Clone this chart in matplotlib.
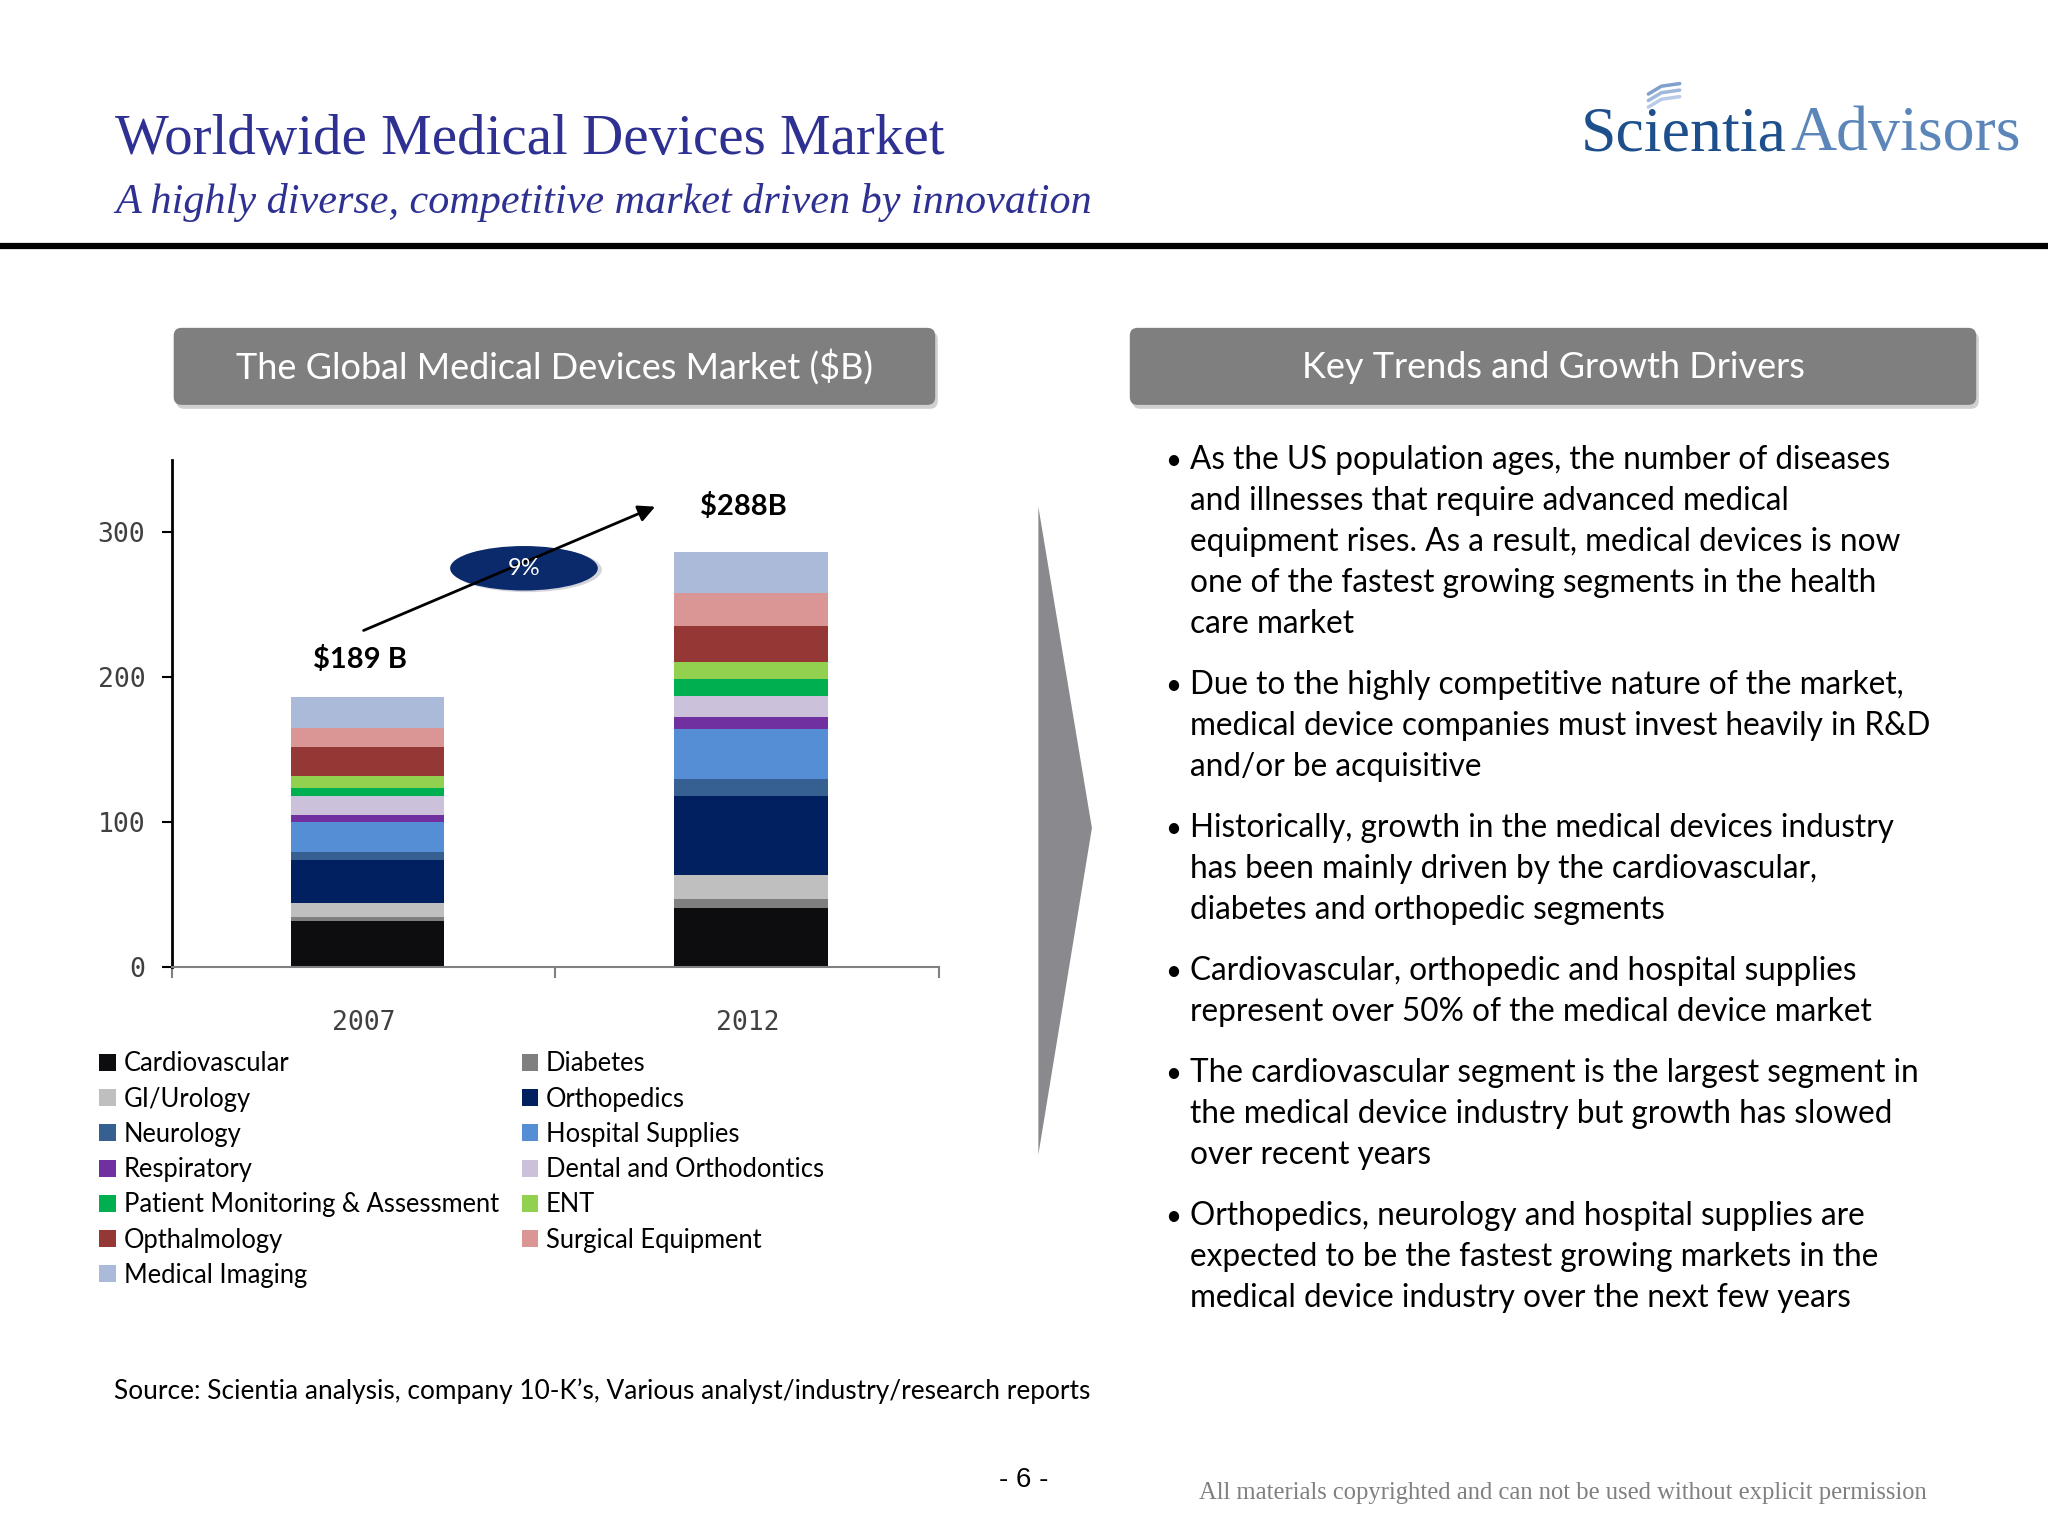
import matplotlib
matplotlib.use('Agg')
import matplotlib.pyplot as plt
from matplotlib.patches import FancyBboxPatch, Ellipse, Polygon, Patch
import numpy as np

plt.rcParams['font.family'] = ['Lato', 'DejaVu Sans']

# chart data ($B), stacked bottom to top
years = ['2007', '2012']
segments = ['Cardiovascular', 'Diabetes', 'GI/Urology', 'Orthopedics', 'Neurology',
            'Hospital Supplies', 'Respiratory', 'Dental and Orthodontics',
            'Patient Monitoring & Assessment', 'ENT', 'Opthalmology',
            'Surgical Equipment', 'Medical Imaging']
cardiovascular = [31.2, 40.5]
diabetes = [2.9, 6.2]
gi_urology = [9.5, 16.7]
orthopedics = [29.8, 54.5]
neurology = [5.5, 11.4]
hospital_supplies = [21.2, 35.0]
respiratory = [4.5, 8.3]
dental = [13.3, 14.5]
patient_monitoring = [5.5, 11.7]
ent = [7.9, 11.7]
opthalmology = [20.0, 24.5]
surgical = [13.1, 23.3]
medical_imaging = [21.7, 28.3]
total_labels = ['$189 B', '$288B']
growth_label = '9%'
yticks = [0, 100, 200, 300]

colors = ['#0d0d10', '#7f7f7f', '#bfbfbf', '#002060', '#366092', '#558ed5', '#7030a0',
          '#ccc1da', '#00b050', '#92d050', '#953735', '#d99694', '#abbad8']

bullets = [
    ['As the US population ages, the number of diseases',
     'and illnesses that require advanced medical',
     'equipment rises. As a result, medical devices is now',
     'one of the fastest growing segments in the health',
     'care market'],
    ['Due to the highly competitive nature of the market,',
     'medical device companies must invest heavily in R&D',
     'and/or be acquisitive'],
    ['Historically, growth in the medical devices industry',
     'has been mainly driven by the cardiovascular,',
     'diabetes and orthopedic segments'],
    ['Cardiovascular, orthopedic and hospital supplies',
     'represent over 50% of the medical device market'],
    ['The cardiovascular segment is the largest segment in',
     'the medical device industry but growth has slowed',
     'over recent years'],
    ['Orthopedics, neurology and hospital supplies are',
     'expected to be the fastest growing markets in the',
     'medical device industry over the next few years'],
]

W, H = 1568, 1176
fig = plt.figure(figsize=(20.48, 15.36), dpi=100)

# page layer for the slide decorations
page = fig.add_axes([0, 0, 1, 1])
page.set_xlim(0, W)
page.set_ylim(H, 0)
page.axis('off')

title_color = '#2e3092'
page.text(88, 118, 'Worldwide Medical Devices Market', family='Liberation Serif',
          fontsize=41, color=title_color, va='baseline')
page.text(88, 163, 'A highly diverse, competitive market driven by innovation',
          family='Liberation Serif', fontstyle='italic', fontsize=30.3,
          color=title_color, va='baseline')
page.plot([0, W], [188, 188], color='black', lw=4.5, solid_capstyle='butt')

page.text(1210, 115, 'Scientia', family='Liberation Serif', fontsize=46,
          color='#1c4f8c', va='baseline')
page.text(1371, 115, 'Advisors', family='Liberation Serif', fontsize=46,
          color='#5c86ba', va='baseline')
# little swoosh over the logo
for k, c in enumerate(['#7f9fcc', '#9fb8dc', '#b9cbe6']):
    page.plot([1262, 1272, 1286], [72 + 5 * k, 66 + 5 * k, 64 + 5 * k], color=c,
              lw=2.5, solid_capstyle='round')

for x0, x1, label in [(133, 716, 'The Global Medical Devices Market ($B)'),
                      (865, 1513, 'Key Trends and Growth Drivers')]:
    page.add_patch(FancyBboxPatch((x0 + 2, 254), x1 - x0, 59,
                                  boxstyle='round,pad=0,rounding_size=6',
                                  fc='#d0d0d0', ec='none'))
    page.add_patch(FancyBboxPatch((x0, 251), x1 - x0, 59,
                                  boxstyle='round,pad=0,rounding_size=6',
                                  fc='#7f7f7f', ec='none'))
    page.text((x0 + x1) / 2, 281, label, ha='center', va='center',
              fontsize=26, color='white')

page.add_patch(Polygon([(795, 388), (836, 634), (795, 884)], closed=True,
                       fc='#8a8a8e', ec='none'))

# bullet text
y = 359
for para in bullets:
    page.text(892, y, '\u2022', fontsize=20, va='baseline')
    for line in para:
        page.text(911, y, line, fontsize=22.7, va='baseline')
        y += 31.4
    y += 15.3

page.text(87, 1071, 'Source: Scientia analysis, company 10-K\u2019s, Various analyst/industry/research reports',
          fontsize=18.9, va='baseline')
page.text(784, 1133, '- 6 -', family='Liberation Sans', fontsize=20,
          ha='center', va='center')
page.text(918, 1143, 'All materials copyrighted and can not be used without explicit permission',
          family='Liberation Serif', fontsize=17.7, color='#808080', va='center')

# stacked bar chart
ax = fig.add_axes([131.5 / W, 1 - 740 / H, (719 - 131.5) / W, (740 - 352) / H])
ax.set_facecolor('none')
series = [cardiovascular, diabetes, gi_urology, orthopedics, neurology,
          hospital_supplies, respiratory, dental, patient_monitoring, ent,
          opthalmology, surgical, medical_imaging]
x = np.arange(len(years))
bottom = np.zeros(len(years))
handles = []
for name, vals, c in zip(segments, series, colors):
    ax.bar(x + 0.01, vals, 0.4, bottom=bottom, color=c, linewidth=0)
    bottom += np.array(vals)
    handles.append(Patch(fc=c, ec='none', label=name))
totals = bottom

ax.set_xlim(-0.5, 1.5)
ax.set_ylim(0, 350)
for s in ['top', 'right']:
    ax.spines[s].set_visible(False)
ax.spines['left'].set_color('black')
ax.spines['left'].set_linewidth(2)
ax.spines['bottom'].set_color('#808080')
ax.spines['bottom'].set_linewidth(1.5)

ax.set_yticks(yticks)
ax.set_yticklabels([str(v) for v in yticks], family='DejaVu Sans Mono',
                   fontsize=19, color='#404040')
ax.tick_params(axis='y', length=7, width=1.5, pad=12)
ax.set_xticks([-0.5, 0.5, 1.5])
ax.set_xticklabels([])
ax.tick_params(axis='x', which='major', length=8, width=1.5, color='#808080')
ax.set_xticks(x, minor=True)
ax.set_xticklabels(years, minor=True, family='DejaVu Sans Mono', fontsize=19,
                   color='#404040')
ax.tick_params(axis='x', which='minor', length=0, pad=31)

for i, lab in enumerate(total_labels):
    ax.text(x[i] - 0.01, totals[i] + 26 + 5 * i, lab, ha='center', va='center',
            fontsize=21, fontweight='bold')

start = (x[0], totals[0] + 46)
end = (0.76, totals[1] + 31)
ax.annotate('', xy=end, xytext=start,
            arrowprops=dict(arrowstyle='-|>', color='black', lw=2, mutation_scale=25,
                            shrinkA=0, shrinkB=0))
cx = start[0] + 0.55 * (end[0] - start[0])
cy = start[1] + 0.52 * (end[1] - start[1])
ax.add_patch(Ellipse((cx + 0.008, cy - 2.5), 0.39, 31, fc='#b8b8c4', ec='none', alpha=0.6))
ax.add_patch(Ellipse((cx, cy - 1.5), 0.385, 30.7, fc='#0a2a6b', ec='none'))
ax.text(cx, cy - 1.5, growth_label, ha='center', va='center', color='white', fontsize=17)

order = list(range(0, len(handles), 2)) + list(range(1, len(handles), 2))
fig.legend([handles[i] for i in order], [segments[i] for i in order],
           loc='upper left', bbox_to_anchor=(76 / W, 1 - 805 / H), ncol=2,
           frameon=False, fontsize=18.4, handlelength=0.65, handleheight=0.65,
           handletextpad=0.3, columnspacing=0.9, labelspacing=0.40,
           borderpad=0, borderaxespad=0)

fig.savefig('out.png', dpi=100)
